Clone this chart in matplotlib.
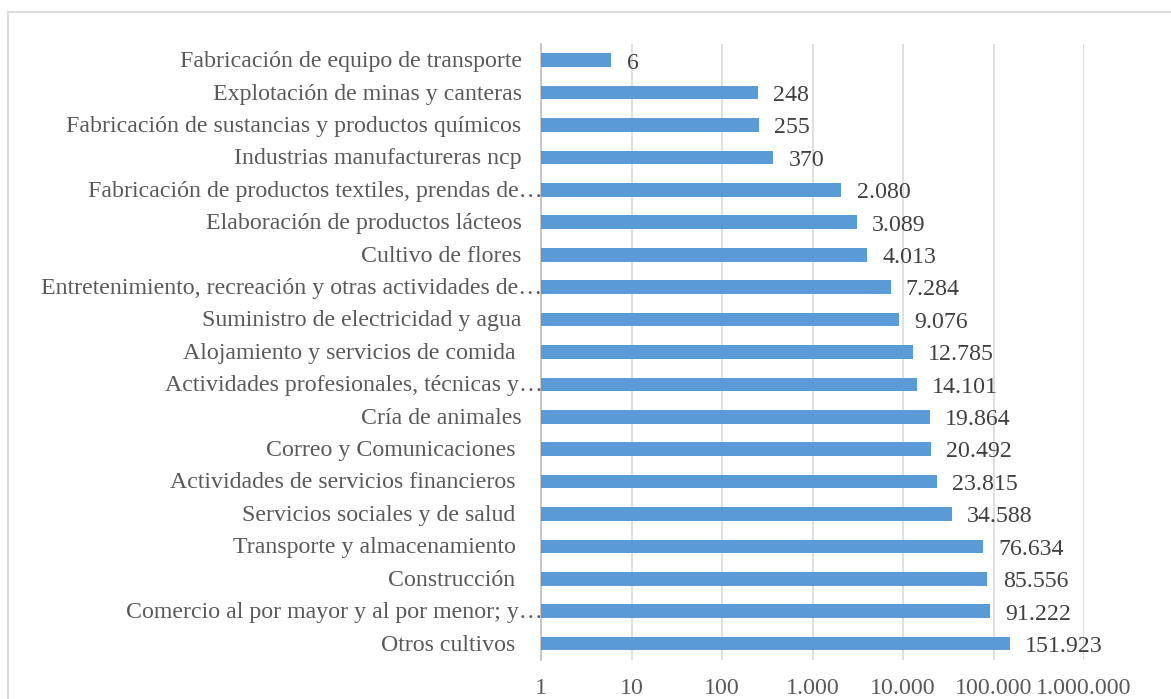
import matplotlib.pyplot as plt
from matplotlib.patches import Rectangle
from matplotlib.ticker import FixedLocator, FuncFormatter

# Categories from top to bottom, as they appear in the chart
categories = [
    "Fabricación de equipo de transporte",
    "Explotación de minas y canteras",
    "Fabricación de sustancias y productos químicos",
    "Industrias manufactureras ncp",
    "Fabricación de productos textiles, prendas de…",
    "Elaboración de productos lácteos",
    "Cultivo de flores",
    "Entretenimiento, recreación y otras actividades de…",
    "Suministro de electricidad y agua",
    "Alojamiento y servicios de comida ",
    "Actividades profesionales, técnicas y…",
    "Cría de animales",
    "Correo y Comunicaciones ",
    "Actividades de servicios financieros ",
    "Servicios sociales y de salud ",
    "Transporte y almacenamiento ",
    "Construcción ",
    "Comercio al por mayor y al por menor; y…",
    "Otros cultivos ",
]
values = [6, 248, 255, 370, 2080, 3089, 4013, 7284, 9076, 12785,
          14101, 19864, 20492, 23815, 34588, 76634, 85556, 91222, 151923]
tick_values = [1, 10, 100, 1000, 10000, 100000, 1000000]

text_color = "#595959"
bar_color = "#5B9BD5"
grid_color = "#d9d9d9"
fs = 17.2


def miles(v):
    return f"{int(v):,}".replace(",", ".")


plt.rcParams["font.family"] = ["Liberation Serif", "DejaVu Serif"]

fig = plt.figure(figsize=(11.71, 6.99), dpi=100)
ax = fig.add_axes([541 / 1171, 0.056, (1084 - 541) / 1171, 0.881])

# outer chart border
fig.patches.append(Rectangle((8 / 1171, -0.01), 1.02, 1 - 12 / 699 + 0.01,
                             transform=fig.transFigure, fill=False,
                             edgecolor=grid_color, linewidth=1.3))

n = len(categories)
ypos = list(range(n - 1, -1, -1))
ax.barh(ypos, values, height=0.42, color=bar_color, left=0, zorder=3)

ax.set_xscale("log")
ax.set_xlim(1, 1000000)
ax.set_ylim(-0.5, n - 0.5)
ax.xaxis.set_major_locator(FixedLocator(tick_values))
ax.xaxis.set_minor_locator(FixedLocator([]))
ax.xaxis.set_major_formatter(FuncFormatter(lambda v, p: miles(v)))
ax.set_yticks([])

ax.tick_params(axis="both", length=0, labelsize=fs, colors=text_color)
ax.tick_params(axis="x", pad=13)

ax.grid(axis="x", color=grid_color, linewidth=1.2, zorder=0)
for side in ["top", "right", "bottom"]:
    ax.spines[side].set_visible(False)
ax.spines["left"].set_color("#bfbfbf")
ax.spines["left"].set_linewidth(1.2)

# category labels: truncated ones run up to the axis, the rest keep a gap
for y, name in zip(ypos, categories):
    dx = 1 if name.endswith("…") else -14
    ax.annotate(name, (0, y), xycoords=ax.get_yaxis_transform(),
                xytext=(dx, -1), textcoords="offset points",
                ha="right", va="center", fontsize=fs, color=text_color,
                annotation_clip=False)

for y, v in zip(ypos, values):
    ax.annotate(miles(v), (v, y), xytext=(11, -2), textcoords="offset points",
                va="center", ha="left", fontsize=fs, color="#404040", zorder=4)

fig.savefig("out.png", dpi=100)
